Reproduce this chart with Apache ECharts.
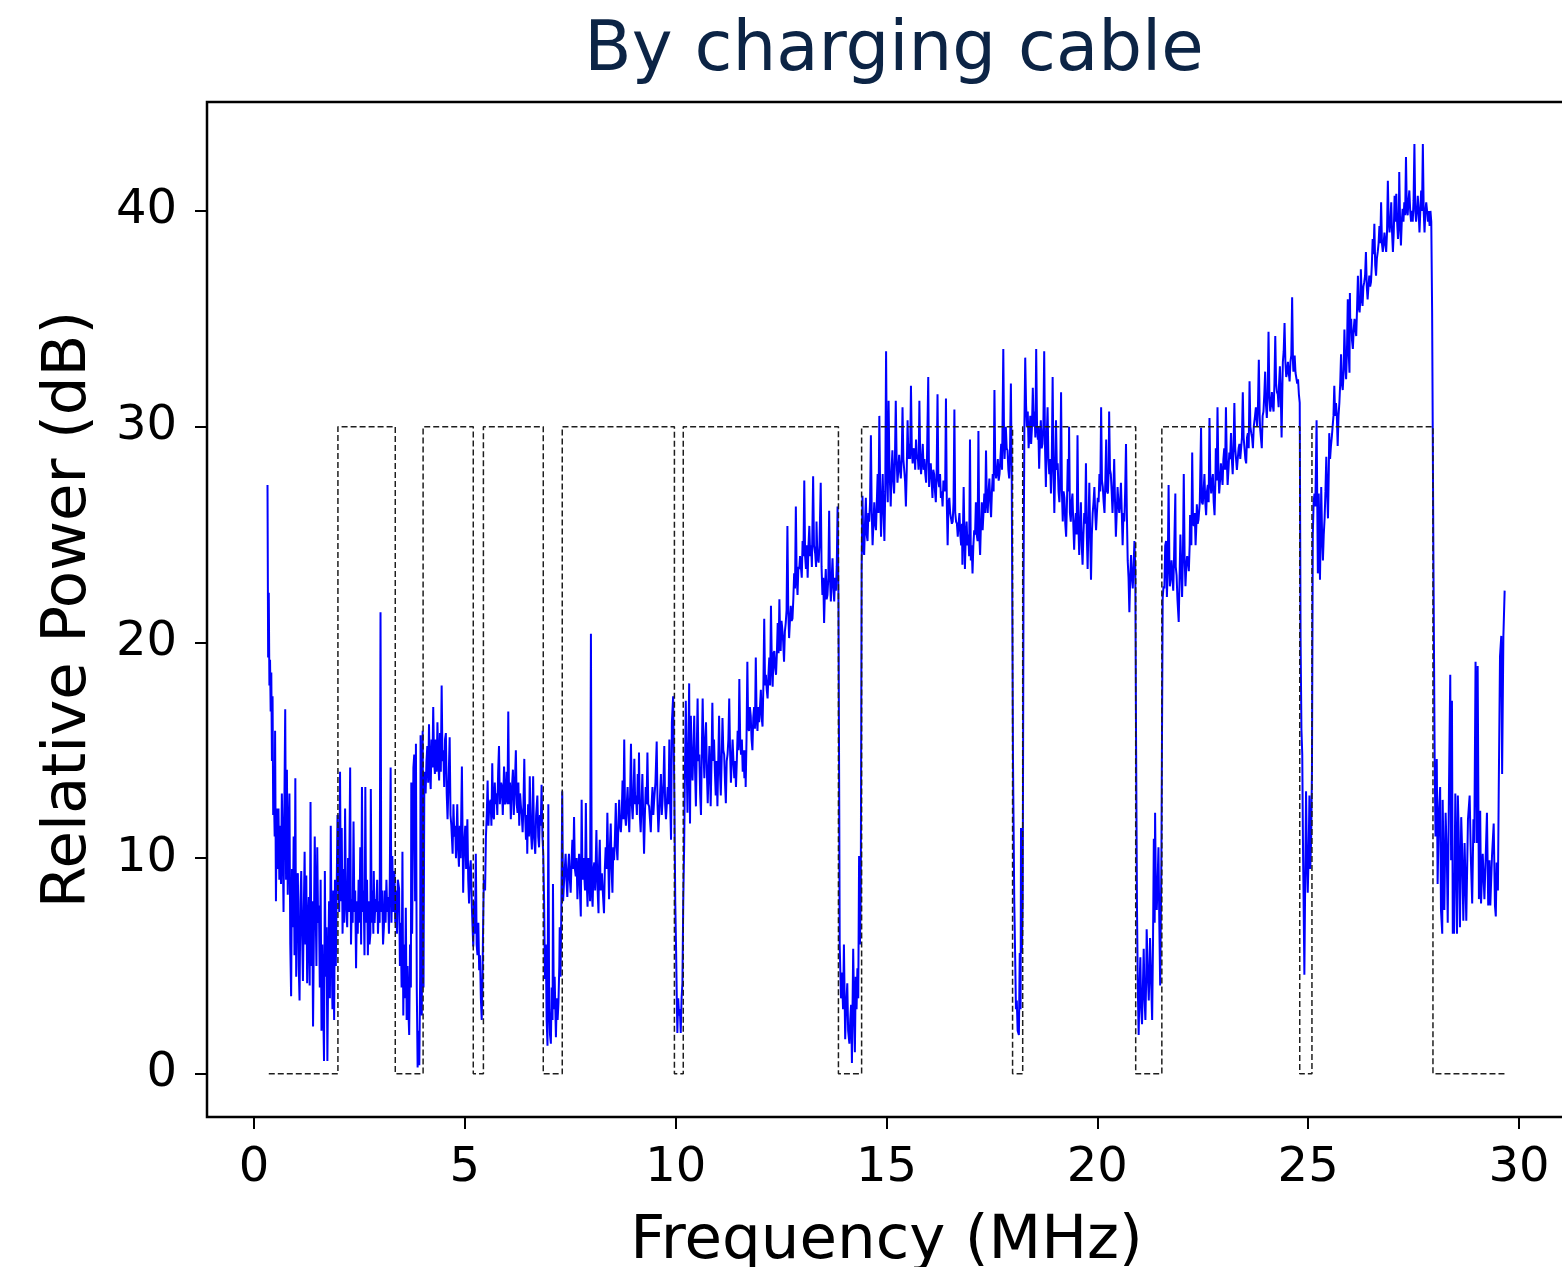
<!DOCTYPE html>
<html>
<head>
<meta charset="utf-8">
<title>By charging cable</title>
<script src="https://cdn.jsdelivr.net/npm/echarts@6/dist/echarts.min.js"></script>
<style>
  html, body { margin: 0; padding: 0; background: #ffffff; }
  #chart { width: 1562px; height: 1267px; }
</style>
</head>
<body>
<div id="chart"></div>
<script>
// Received power spectrum, [frequency MHz, relative power dB]
const spectrumLow = [
  [0.32,27.3],[0.335,19.3],[0.35,22.3],[0.365,18.0],[0.38,19.2],[0.395,16.8],[0.41,18.6],[0.425,14.5],[0.44,17.5],[0.455,12.0],
  [0.47,13.2],[0.49,11.0],[0.50,15.9],[0.52,8.0],[0.54,12.3],[0.56,9.5],[0.58,12.3],[0.60,9.0],[0.62,11.5],[0.64,8.8],
  [0.66,13.0],[0.68,10.8],[0.70,7.5],[0.72,12.5],[0.74,16.9],[0.76,9.0],[0.78,14.1],[0.80,8.3],[0.82,11.0],[0.84,13.0],
  [0.86,6.0],[0.88,3.6],[0.90,9.5],[0.92,6.8],[0.94,11.0],[0.96,5.5],[0.98,13.7],[1.00,4.5],[1.02,9.0],[1.04,9.3],
  [1.06,5.0],[1.08,3.4],[1.10,8.0],[1.12,9.4],[1.14,6.5],[1.16,4.3],[1.18,7.5],[1.20,10.3],[1.22,6.0],[1.24,9.2],
  [1.26,4.2],[1.28,7.0],[1.30,8.2],[1.32,4.1],[1.34,12.6],[1.36,5.0],[1.38,8.0],[1.40,2.2],[1.42,6.5],[1.44,11.0],
  [1.46,8.0],[1.48,5.0],[1.50,10.5],[1.52,7.0],[1.54,7.8],[1.56,4.0],[1.58,9.0],[1.60,2.0],[1.62,6.0],[1.64,3.2],
  [1.66,0.6],[1.68,9.4],[1.70,4.5],[1.72,6.8],[1.74,0.6],[1.76,5.0],[1.78,8.0],[1.80,3.5],[1.82,11.5],[1.84,6.0],
  [1.86,3.0],[1.88,8.5],[1.90,2.5],[1.92,9.0],[1.94,5.0],[1.96,8.5],[1.98,12.0],
  [2.00,12.0],[2.02,7.5],[2.04,14.0],[2.06,8.0],[2.08,11.4],[2.10,6.5],[2.12,9.5],[2.14,7.0],[2.16,12.3],[2.18,8.0],
  [2.21,6.8],[2.23,10.0],[2.25,7.5],[2.28,14.2],[2.30,6.0],[2.32,8.1],[2.34,7.0],[2.36,11.7],[2.38,7.5],[2.40,8.5],
  [2.42,4.9],[2.44,8.0],[2.46,6.5],[2.48,9.0],[2.50,7.0],[2.52,10.5],[2.54,6.0],[2.56,13.3],[2.58,7.5],[2.60,8.5],
  [2.62,5.5],[2.64,13.3],[2.66,7.0],[2.68,9.0],[2.70,5.5],[2.72,8.0],[2.74,6.0],[2.76,6.5],[2.77,13.2],[2.79,7.0],
  [2.81,8.5],[2.83,6.5],[2.84,9.4],[2.86,7.0],[2.88,8.1],[2.90,7.5],[2.92,9.0],[2.94,6.5],[2.96,8.0],[2.98,7.0],
  [3.00,21.4],[3.02,7.5],[3.04,8.5],[3.06,6.0],[3.08,6.8],[3.10,8.5],[3.12,7.0],[3.14,9.0],[3.16,7.5],[3.18,8.2],
  [3.20,6.5],[3.22,9.0],[3.24,14.2],[3.26,7.0],[3.28,10.1],[3.30,7.5],[3.33,9.4],[3.35,7.0],[3.37,8.5],[3.39,6.5],
  [3.41,9.0],[3.44,8.6],[3.46,5.0],[3.48,7.0],[3.50,4.0],[3.52,10.3],[3.54,2.7],[3.56,6.0],[3.58,3.5],[3.60,7.7],
  [3.62,2.5],[3.64,5.0],[3.66,3.0],[3.68,1.8],[3.70,6.0],[3.72,4.0],[3.73,13.5],[3.75,6.5],[3.78,14.2],[3.80,14.8],
  [3.82,8.0],[3.84,15.3],[3.86,4.0],[3.88,0.3],[3.90,2.0],[3.92,0.4],[3.94,4.5],[3.95,15.7],[3.98,2.7],[4.00,15.9]
];

const spectrumMid = [
  [4.02,4.0],[4.04,14.0],[4.07,13.0],[4.09,14.5],[4.11,15.2],[4.13,13.5],[4.15,16.2],[4.17,14.0],[4.19,13.2],[4.21,15.5],
  [4.23,14.2],[4.25,17.0],[4.27,14.5],[4.29,13.9],[4.31,15.5],[4.33,14.0],[4.35,16.3],[4.37,14.5],[4.39,13.6],[4.41,15.8],
  [4.43,14.0],[4.45,18.0],[4.47,14.5],[4.49,15.0],[4.51,13.3],[4.53,15.5],[4.55,15.8],[4.57,13.0],[4.59,11.8],[4.62,14.0],
  [4.64,15.6],[4.66,12.0],[4.68,11.5],[4.71,10.2],[4.73,12.5],[4.75,11.0],[4.77,11.5],[4.79,10.0],[4.82,12.5],[4.84,10.5],
  [4.86,9.6],[4.88,11.5],[4.90,10.0],[4.93,14.25],[4.96,8.4],[4.98,10.5],[5.01,11.5],[5.03,9.5],[5.06,11.8],[5.08,9.0],
  [5.10,7.9],[5.12,9.5],[5.14,9.9],[5.17,7.5],[5.20,5.9],[5.22,8.0],[5.24,6.5],[5.26,10.2],[5.28,6.0],[5.30,5.5],
  [5.32,7.0],[5.34,4.8],[5.36,5.5],[5.38,3.5],[5.40,2.5],[5.42,4.5],[5.43,6.4],[5.45,9.0],[5.48,8.5],[5.50,11.0],
  [5.52,12.0],[5.54,13.6],[5.56,11.5],[5.58,12.5],[5.61,12.7],[5.63,11.5],[5.65,14.4],[5.67,12.0],[5.69,11.8],[5.71,13.5],
  [5.73,12.5],[5.75,13.0],[5.77,12.0],[5.79,14.0],[5.81,15.2],[5.83,12.5],[5.86,13.5],[5.88,13.3],[5.90,12.0],[5.93,14.25],
  [5.95,12.5],[5.97,12.7],[5.99,14.0],[6.01,12.5],[6.03,16.8],[6.05,12.5],[6.07,13.5],[6.09,11.8],[6.11,13.0],[6.14,14.1],
  [6.16,12.0],[6.18,13.0],[6.21,15.0],[6.23,12.5],[6.25,12.1],[6.27,13.5],[6.29,11.5],[6.31,13.0],[6.33,12.4],[6.35,12.0],
  [6.37,11.2],[6.39,12.5],[6.41,14.6],[6.43,12.0],[6.45,10.85],[6.47,12.0],[6.48,10.2],[6.50,12.5],[6.52,11.0],[6.54,13.8],
  [6.56,11.5],[6.59,10.4],[6.62,13.8],[6.64,11.0],[6.67,10.2],[6.69,12.0],[6.72,12.9],[6.74,11.0],[6.76,10.5],[6.78,12.0],
  [6.80,11.5],[6.82,13.4],[6.84,11.0],[6.86,10.2],[6.88,8.0],[6.90,4.4],[6.92,6.0],[6.94,2.5],[6.96,1.3],[6.98,12.5],
  [7.00,3.0],[7.02,1.8],[7.04,1.4],[7.06,4.0],[7.08,2.5],[7.09,8.8],[7.11,3.0],[7.13,4.5],[7.16,1.7],[7.18,3.5],
  [7.20,2.5],[7.22,3.3],[7.24,5.0],[7.25,6.8],[7.27,4.5],[7.29,8.0],[7.31,13.1]
];

const spectrum40m = [
  [7.33,8.0],[7.35,8.8],[7.37,9.5],[7.39,10.2],[7.41,9.0],[7.43,8.2],[7.45,9.5],[7.47,10.2],[7.49,9.0],[7.51,8.4],
  [7.53,9.8],[7.55,10.85],[7.57,9.5],[7.59,11.9],[7.61,9.5],[7.63,9.15],[7.65,10.0],[7.67,8.1],[7.69,9.5],[7.71,10.2],
  [7.73,8.5],[7.75,7.3],[7.77,12.7],[7.79,9.0],[7.81,10.0],[7.83,9.3],[7.85,8.5],[7.87,12.55],[7.89,9.0],[7.91,7.75],
  [7.93,10.0],[7.95,9.15],[7.97,8.0],[7.99,20.4],[8.01,8.5],[8.03,7.75],[8.05,9.5],[8.07,9.8],[8.09,8.5],[8.12,11.3],
  [8.14,9.0],[8.17,7.45],[8.18,9.5],[8.20,10.85],[8.22,8.5],[8.25,9.3],[8.27,8.5],[8.30,7.45],[8.32,9.5],[8.34,10.5],
  [8.36,9.5],[8.38,12.1],[8.40,10.0],[8.42,8.1],[8.44,10.5],[8.46,11.6],[8.48,9.5],[8.50,8.4],[8.52,10.5],[8.54,9.9],
  [8.56,11.0],[8.58,12.55],[8.60,10.5],[8.62,9.9],[8.64,11.5],[8.66,12.7],[8.68,11.5],[8.70,11.2],[8.72,12.0],[8.74,13.6],
  [8.76,11.8],[8.78,15.5],[8.80,12.0],[8.82,11.5],[8.84,12.5],[8.86,13.3],[8.88,12.0],[8.90,11.2],[8.92,13.0],[8.94,15.3],
  [8.96,12.5],[8.98,11.8],[9.00,13.0],[9.02,14.6],[9.04,12.5],[9.06,12.9],[9.08,12.0],[9.10,13.9],[9.12,12.5],[9.13,14.9],
  [9.15,12.0],[9.17,11.2],[9.19,12.5],[9.21,13.9],[9.23,12.0],[9.25,10.2],[9.27,12.0],[9.29,13.3],[9.31,12.5],[9.33,14.9],
  [9.35,12.5],[9.37,12.4],[9.39,11.8],[9.41,11.2],[9.43,12.5],[9.45,13.3],[9.47,12.0],[9.49,12.7],[9.52,13.5],[9.55,15.4],
  [9.57,12.5],[9.59,11.2],[9.62,12.5],[9.65,13.9],[9.67,12.0],[9.69,12.7],[9.71,13.5],[9.73,15.2],[9.75,12.5],[9.77,11.8],
  [9.79,12.5],[9.81,13.3],[9.83,12.5],[9.85,15.5],[9.87,12.5],[9.89,10.85],[9.91,16.3],[9.94,17.5],[9.97,12.7],[9.99,8.0],
  [10.01,5.75],[10.03,3.0],[10.04,1.9],[10.06,3.5],[10.08,2.7],[10.10,3.0],[10.12,1.9],[10.14,3.5],[10.16,4.2],[10.18,8.0],
  [10.20,10.4],[10.22,14.0],[10.24,17.3],[10.26,14.5],[10.28,12.1],[10.30,15.0],[10.32,18.1]
];

const spectrum30m = [
  [10.34,11.6],[10.36,16.6],[10.38,14.5],[10.40,13.6],[10.42,15.0],[10.44,16.6],[10.46,14.0],[10.48,12.4],[10.50,15.0],[10.52,17.4],
  [10.54,14.5],[10.56,14.8],[10.58,13.0],[10.60,12.0],[10.62,15.0],[10.64,17.4],[10.66,15.0],[10.68,13.7],[10.70,15.5],[10.72,16.3],
  [10.74,14.0],[10.76,12.55],[10.78,14.0],[10.80,15.2],[10.82,13.5],[10.83,12.4],[10.85,14.5],[10.87,17.2],[10.89,14.5],[10.91,15.5],
  [10.93,14.0],[10.95,12.9],[10.97,14.5],[10.99,12.4],[11.01,14.5],[11.03,16.6],[11.05,14.0],[11.07,12.9],[11.09,14.5],[11.11,16.5],
  [11.13,15.0],[11.15,14.8],[11.17,13.5],[11.19,12.55],[11.21,14.5],[11.23,14.8],[11.25,15.5],[11.27,17.4],[11.29,15.0],[11.31,13.5],
  [11.33,14.5],[11.35,15.5],[11.37,14.5],[11.39,13.7],[11.41,14.5],[11.43,13.3],[11.45,14.5],[11.47,15.9],[11.49,15.0],[11.51,18.3],
  [11.53,15.5],[11.55,14.8],[11.57,15.5],[11.59,14.0],[11.61,15.0],[11.63,13.7],[11.65,15.0],[11.66,13.3],[11.68,15.5],[11.70,19.1],
  [11.72,16.0],[11.74,15.9],[11.76,17.0],[11.78,16.6],[11.80,15.5],[11.82,15.0],[11.84,16.5],[11.86,17.0],[11.88,16.0],[11.90,19.3],
  [11.92,16.5],[11.94,15.9],[11.96,17.0],[11.98,16.3],[12.00,17.0],[12.02,17.8],[12.04,16.5],[12.06,16.1],[12.08,18.0],[12.10,21.1],
  [12.12,18.0],[12.14,18.5],[12.16,17.8],[12.18,17.4],[12.20,18.5],[12.22,19.3],[12.24,18.0],[12.26,21.7],[12.28,19.0],[12.30,17.95],
  [12.32,19.5],[12.34,19.6],[12.36,18.8],[12.38,18.5],[12.40,19.5],[12.42,20.9],[12.44,19.5],[12.46,22.0],[12.48,20.0],[12.49,19.6],
  [12.51,21.0],[12.53,20.6],[12.55,20.0],[12.57,19.1],[12.59,20.5],[12.61,20.9],[12.63,21.5],[12.65,25.4],[12.67,21.5],[12.69,20.2],
  [12.71,21.0],[12.73,21.7],[12.75,21.0],[12.77,21.1],[12.79,22.0],[12.81,23.2],[12.83,22.5],[12.85,26.3],[12.87,23.0],[12.89,22.2],
  [12.91,23.5],[12.93,23.4],[12.95,24.0],[12.97,23.5],[12.99,23.0],[13.01,24.7],[13.03,24.0],[13.05,27.5],[13.07,24.0],[13.09,23.4],
  [13.11,24.5],[13.13,23.0],[13.15,24.5],[13.17,25.4],[13.19,24.0],[13.21,24.5],[13.23,23.5],[13.26,27.7],[13.28,24.5],[13.31,24.1],
  [13.33,23.5],[13.34,25.6],[13.36,24.0],[13.39,23.7],[13.41,24.5],[13.44,27.4],[13.46,23.5],[13.48,22.2],[13.50,23.0],[13.52,20.9],
  [13.54,22.5],[13.56,23.4],[13.58,22.0],[13.60,22.2],[13.62,23.0],[13.64,26.1],[13.66,23.0],[13.68,21.9],[13.70,23.0],[13.72,23.9],
  [13.74,22.5],[13.76,21.9],[13.78,23.0],[13.80,22.4],[13.82,23.5],[13.84,26.3],[13.86,22.2],[13.88,12.0],[13.89,6.0],[13.92,3.5],
  [13.94,4.7],[13.97,3.0],[13.99,6.0],[14.02,1.6],[14.04,3.0],[14.07,4.2],[14.09,2.0],[14.12,1.4],[14.14,2.5],[14.16,3.2],
  [14.18,0.5],[14.21,5.8],[14.23,3.0],[14.25,1.0],[14.27,4.5],[14.29,3.0],[14.31,4.9],[14.33,3.5],[14.35,10.1],[14.37,6.0],
  [14.39,8.5],[14.41,23.4]
];

const spectrum20m = [
  [14.43,26.8],[14.45,24.5],[14.47,24.05],[14.49,25.5],[14.51,26.7],[14.53,25.0],[14.55,24.7],[14.57,26.0],[14.59,25.6],[14.61,26.5],
  [14.63,29.6],[14.65,26.0],[14.67,24.5],[14.69,25.5],[14.71,26.5],[14.73,25.5],[14.75,25.2],[14.77,26.5],[14.79,27.8],[14.81,26.0],
  [14.83,30.5],[14.85,27.0],[14.87,24.9],[14.89,26.5],[14.91,27.8],[14.93,26.0],[14.95,24.7],[14.97,27.0],[14.99,33.5],[15.01,28.0],
  [15.03,26.5],[15.05,31.2],[15.07,28.0],[15.09,27.0],[15.10,26.3],[15.12,28.0],[15.14,28.9],[15.16,27.5],[15.18,26.9],[15.20,28.5],
  [15.22,31.2],[15.24,28.5],[15.26,27.4],[15.28,28.0],[15.30,28.7],[15.32,28.0],[15.34,27.6],[15.36,28.5],[15.38,30.9],[15.40,28.5],
  [15.42,28.5],[15.44,27.5],[15.46,26.3],[15.48,28.0],[15.50,30.3],[15.52,28.5],[15.54,29.2],[15.56,28.5],[15.58,31.9],[15.60,29.0],
  [15.62,28.3],[15.64,29.0],[15.66,28.9],[15.68,28.0],[15.70,29.4],[15.72,28.5],[15.74,28.7],[15.76,28.0],[15.78,31.2],[15.80,28.5],
  [15.82,27.8],[15.84,28.5],[15.86,29.2],[15.88,28.0],[15.90,28.5],[15.92,27.8],[15.94,27.4],[15.96,28.5],[15.99,32.3],[16.01,27.2],
  [16.03,28.0],[16.05,28.3],[16.07,27.5],[16.09,26.7],[16.11,28.0],[16.13,27.8],[16.15,27.0],[16.17,26.5],[16.19,28.0],[16.21,31.5],
  [16.23,27.5],[16.25,27.2],[16.27,27.8],[16.29,26.7],[16.31,27.0],[16.33,26.3],[16.35,27.5],[16.37,27.4],[16.39,27.0],[16.41,31.3],
  [16.43,26.5],[16.45,24.5],[16.47,26.5],[16.49,26.7],[16.51,26.0],[16.53,26.0],[16.55,25.5],[16.57,25.6],[16.59,26.5],[16.61,30.8],
  [16.63,26.0],[16.65,25.6],[16.67,25.5],[16.69,24.9],[16.71,25.5],[16.73,26.0],[16.75,25.0],[16.77,24.5],[16.79,25.5],[16.80,23.6],
  [16.83,27.2],[16.86,23.4],[16.88,25.0],[16.90,25.6],[16.92,24.5],[16.94,25.0],[16.96,24.0],[16.98,29.4],[17.00,23.8],[17.02,24.5],
  [17.04,23.2],[17.06,24.5],[17.08,25.2],[17.10,25.0],[17.12,26.5],[17.14,25.0],[17.16,24.7],[17.18,29.8],[17.20,25.0],[17.22,24.05],
  [17.24,25.5],[17.26,26.5],[17.28,25.2],[17.30,26.0],[17.32,26.9],[17.34,26.0],[17.36,28.9],[17.38,26.5],[17.40,26.0],[17.42,27.0],
  [17.44,27.6],[17.46,26.5],[17.48,25.8],[17.50,27.0],[17.52,27.8],[17.54,27.0],[17.56,31.7],[17.58,28.0],[17.60,27.6],[17.62,28.0],
  [17.64,28.5],[17.66,27.5],[17.68,27.8],[17.70,28.5],[17.72,29.2],[17.74,28.0],[17.77,33.6],[17.79,29.0],[17.80,28.5],[17.82,29.5],
  [17.83,30.0],[17.85,29.0],[17.87,28.9],[17.89,28.0],[17.91,27.6],[17.93,29.0],[17.95,32.0],[17.97,27.6],[18.00,14.5],[18.03,8.0],
  [18.05,5.6],[18.07,3.0],[18.09,3.4],[18.11,2.0],[18.14,1.8],[18.16,5.6],[18.18,3.0],[18.19,11.4],[18.21,5.6],[18.23,8.0],
  [18.25,22.9]
];

const spectrum17m = [
  [18.27,30.0],[18.29,33.2],[18.31,31.0],[18.33,30.0],[18.35,30.7],[18.37,29.0],[18.39,29.6],[18.41,30.5],[18.43,29.2],[18.45,30.0],
  [18.47,31.8],[18.49,30.0],[18.51,30.7],[18.53,29.5],[18.55,33.6],[18.57,30.0],[18.59,29.4],[18.60,30.0],[18.62,28.05],[18.64,29.5],
  [18.66,30.3],[18.68,29.0],[18.70,29.2],[18.72,30.0],[18.74,33.5],[18.76,29.0],[18.78,27.2],[18.80,29.5],[18.82,30.9],[18.84,28.5],
  [18.86,27.8],[18.88,28.5],[18.90,26.9],[18.92,28.5],[18.94,32.3],[18.96,28.0],[18.98,26.0],[19.00,28.0],[19.02,30.3],[19.04,28.0],
  [19.06,28.3],[19.08,27.0],[19.10,26.5],[19.12,27.5],[19.14,31.6],[19.16,27.0],[19.18,25.6],[19.20,27.0],[19.22,26.7],[19.24,25.5],
  [19.26,24.9],[19.28,26.5],[19.30,28.5],[19.32,27.0],[19.33,30.0],[19.35,26.0],[19.37,25.6],[19.39,26.5],[19.41,26.9],[19.43,25.5],
  [19.45,24.3],[19.47,25.5],[19.49,26.0],[19.51,25.0],[19.53,29.6],[19.55,25.5],[19.57,24.05],[19.59,25.5],[19.61,26.5],[19.63,24.5],
  [19.65,23.6],[19.67,25.0],[19.69,26.0],[19.71,25.5],[19.73,28.3],[19.75,25.0],[19.77,23.4],[19.79,25.5],[19.81,27.4],[19.83,25.0],
  [19.85,22.9],[19.87,25.0],[19.89,26.0],[19.91,26.5],[19.93,27.2],[19.95,26.0],[19.97,25.2],[19.99,26.0],[20.01,26.7],[20.03,26.5],
  [20.05,27.8],[20.07,27.0],[20.09,30.9],[20.11,27.5],[20.13,27.2],[20.15,26.5],[20.17,26.0],[20.19,27.5],[20.21,29.4],[20.23,27.0],
  [20.25,26.9],[20.27,28.0],[20.28,30.7],[20.30,28.0],[20.32,27.8],[20.34,27.0],[20.36,26.0],[20.38,27.0],[20.40,28.5],[20.42,26.5],
  [20.44,24.9],[20.46,26.0],[20.48,27.2],[20.50,26.5],[20.52,26.0],[20.54,26.5],[20.56,27.4],[20.58,26.0],[20.60,24.5],[20.62,26.0],
  [20.64,25.6],[20.66,27.0],[20.68,29.2],[20.70,26.0],[20.72,23.8],[20.74,23.0],[20.76,21.4],[20.78,23.0],[20.80,24.05],[20.82,23.0],
  [20.84,22.5],[20.86,23.5],[20.88,24.7],[20.90,23.4],[20.92,15.0],[20.94,7.8],[20.96,4.0],[20.98,1.8],[21.00,4.0],[21.02,5.4],
  [21.04,3.0],[21.06,2.3],[21.08,4.0],[21.10,5.8],[21.12,3.5],[21.14,2.5],[21.16,4.5],[21.17,6.7],[21.20,4.5],[21.22,3.4],
  [21.24,5.0],[21.25,6.3],[21.28,4.0],[21.30,2.5],[21.32,6.0],[21.34,10.9],[21.36,7.0],[21.37,12.1],[21.39,8.0],[21.41,7.6],
  [21.43,9.0],[21.45,10.5],[21.47,7.0],[21.49,4.1],[21.51,8.0],[21.52,10.3],[21.55,22.05],[21.57,22.6],[21.59,22.5]
];

const spectrum15m = [
  [21.61,24.5],[21.63,24.7],[21.65,22.1],[21.67,23.5],[21.69,27.3],[21.71,23.5],[21.72,22.6],[21.74,23.0],[21.76,23.8],[21.78,23.0],
  [21.80,22.4],[21.82,24.0],[21.85,26.9],[21.86,23.5],[21.88,23.1],[21.90,22.0],[21.93,20.95],[21.95,23.0],[21.97,25.0],[21.99,23.5],
  [22.01,22.1],[22.03,24.0],[22.05,27.8],[22.07,24.0],[22.09,22.6],[22.11,23.5],[22.13,24.0],[22.15,23.8],[22.17,23.3],[22.19,24.5],
  [22.20,25.9],[22.23,24.5],[22.25,28.8],[22.27,25.5],[22.29,25.4],[22.31,26.0],[22.33,24.5],[22.35,25.5],[22.36,26.4],[22.38,25.5],
  [22.40,25.7],[22.43,26.5],[22.46,29.95],[22.48,26.5],[22.50,26.4],[22.52,27.0],[22.54,27.8],[22.56,26.5],[22.58,25.9],[22.60,27.0],
  [22.62,27.3],[22.64,26.5],[22.66,30.4],[22.68,27.5],[22.70,26.9],[22.72,27.5],[22.74,27.8],[22.76,26.5],[22.78,25.9],[22.80,27.5],
  [22.81,29.0],[22.83,27.5],[22.85,30.9],[22.87,28.0],[22.89,26.9],[22.91,27.5],[22.93,28.3],[22.95,27.8],[22.97,27.3],[22.99,28.5],
  [23.01,29.0],[23.03,28.0],[23.05,30.9],[23.07,28.5],[23.09,27.3],[23.11,28.0],[23.13,28.8],[23.15,28.5],[23.17,29.7],[23.19,28.5],
  [23.21,27.8],[23.23,29.0],[23.25,31.1],[23.27,29.0],[23.29,28.5],[23.31,28.0],[23.33,28.05],[23.35,29.0],[23.37,29.2],[23.39,28.5],
  [23.41,28.5],[23.43,29.5],[23.45,31.6],[23.47,29.5],[23.49,29.0],[23.51,28.5],[23.53,28.3],[23.55,29.5],[23.57,29.7],[23.59,29.0],
  [23.61,32.1],[23.63,30.0],[23.65,29.7],[23.67,29.5],[23.69,29.0],[23.71,30.0],[23.72,29.95],[23.74,30.5],[23.76,30.9],[23.79,30.0],
  [23.81,31.0],[23.83,33.1],[23.85,30.5],[23.86,29.95],[23.88,30.0],[23.90,29.0],[23.92,30.5],[23.94,30.7],[23.96,31.5],[23.98,32.55],
  [24.00,31.0],[24.02,30.4],[24.04,31.5],[24.06,34.4],[24.08,31.5],[24.10,30.7],[24.12,31.0],[24.14,31.6],[24.16,31.0],[24.18,30.7],
  [24.20,32.0],[24.22,34.2],[24.24,32.0],[24.26,31.6],[24.28,31.5],[24.30,30.9],[24.31,32.0],[24.33,32.8],[24.35,31.5],[24.37,29.5],
  [24.39,32.0],[24.40,33.0],[24.42,33.5],[24.44,34.8],[24.46,33.0],[24.48,32.3],[24.50,32.5],[24.52,33.0],[24.54,32.5],[24.56,32.1],
  [24.58,33.0],[24.60,33.3],[24.62,36.0],[24.64,33.0],[24.65,32.55],[24.67,33.0],[24.68,33.3],[24.70,32.5],[24.72,32.55],[24.74,32.0],
  [24.76,32.2],[24.78,31.5],[24.80,31.1],[24.82,20.2],[24.84,16.0],[24.86,14.8],[24.88,10.0],[24.89,8.4],[24.91,4.6],[24.93,9.0],
  [24.95,13.1],[24.97,10.0],[24.99,8.4],[25.01,10.0],[25.03,12.9],[25.05,9.5],[25.07,10.8],[25.09,14.0],[25.11,25.0]
];

const spectrum12m = [
  [25.13,26.5],[25.15,26.9],[25.17,26.3],[25.20,30.3],[25.23,23.2],[25.25,26.9],[25.27,25.0],[25.28,22.9],[25.30,25.5],[25.31,27.2],
  [25.33,25.0],[25.35,23.8],[25.37,25.0],[25.39,25.75],[25.41,27.0],[25.43,28.6],[25.45,27.0],[25.47,25.75],[25.49,28.0],[25.50,29.7],
  [25.52,28.5],[25.54,29.1],[25.56,29.5],[25.58,30.0],[25.60,30.5],[25.62,31.9],[25.64,30.5],[25.66,31.1],[25.68,30.5],[25.70,29.1],
  [25.72,30.5],[25.74,31.1],[25.76,32.0],[25.78,33.35],[25.80,32.0],[25.82,31.7],[25.84,32.5],[25.86,34.5],[25.88,33.0],[25.90,32.2],
  [25.92,33.5],[25.94,35.9],[25.96,33.5],[25.98,32.5],[25.99,36.2],[26.00,34.5],[26.02,35.0],[26.04,34.0],[26.06,33.6],[26.08,34.5],
  [26.10,35.0],[26.12,34.5],[26.14,34.2],[26.16,35.5],[26.18,37.0],[26.20,35.5],[26.22,35.3],[26.24,36.0],[26.25,37.3],[26.27,36.0],
  [26.29,35.6],[26.31,36.5],[26.33,36.7],[26.35,37.0],[26.37,38.1],[26.39,36.5],[26.41,35.9],[26.43,36.5],[26.45,37.0],[26.47,36.5],
  [26.49,36.7],[26.51,37.5],[26.53,38.7],[26.55,38.0],[26.57,39.4],[26.59,37.5],[26.61,37.0],[26.63,37.8],[26.65,38.1],[26.67,38.5],
  [26.69,39.3],[26.71,38.5],[26.73,40.4],[26.75,38.5],[26.77,38.1],[26.79,38.5],[26.81,39.0],[26.83,38.5],[26.85,38.1],[26.87,39.0],
  [26.89,41.4],[26.91,39.5],[26.93,39.0],[26.95,39.5],[26.97,40.4],[26.99,39.0],[27.01,38.1],[27.03,39.0],[27.05,40.7],[27.07,39.5],
  [27.09,40.8],[27.11,39.5],[27.13,38.7],[27.15,39.5],[27.16,41.8],[27.18,39.5],[27.20,38.4],[27.22,39.5],[27.24,40.1],[27.26,39.5],
  [27.28,40.4],[27.30,39.8],[27.32,42.5],[27.34,40.0],[27.36,39.8],[27.38,40.5],[27.40,40.95],[27.42,40.0],[27.44,39.5],[27.46,40.0],
  [27.48,39.5],[27.50,40.5],[27.52,43.1],[27.54,40.0],[27.56,39.5],[27.58,40.0],[27.60,40.7],[27.62,40.0],[27.64,39.0],[27.66,40.0],
  [27.68,40.95],[27.70,40.0],[27.72,43.1],[27.74,40.0],[27.76,39.0],[27.78,40.0],[27.80,40.4],[27.82,40.0],[27.84,39.5],[27.86,40.0],
  [27.88,39.3],[27.90,40.0],[27.92,39.5],[27.94,35.3],[27.97,24.1]
];

const spectrumHigh = [
  [28.00,14.6],[28.02,11.0],[28.04,12.9],[28.05,14.6],[28.07,8.8],[28.10,12.1],[28.13,13.3],[28.15,7.6],[28.18,6.5],[28.19,12.7],
  [28.21,10.0],[28.23,7.6],[28.26,12.1],[28.29,9.9],[28.31,7.0],[28.34,13.3],[28.37,18.5],[28.39,9.9],[28.41,17.3],[28.43,6.5],
  [28.45,9.0],[28.46,6.5],[28.49,13.0],[28.53,6.5],[28.55,12.9],[28.57,11.2],[28.60,6.8],[28.63,11.9],[28.65,10.5],[28.68,7.1],
  [28.71,10.7],[28.73,9.0],[28.75,7.1],[28.79,11.8],[28.83,12.9],[28.86,9.9],[28.89,7.9],[28.92,11.8],[28.94,10.7],[28.97,19.1],
  [29.00,10.7],[29.02,18.9],[29.05,8.1],[29.08,12.2],[29.10,7.9],[29.14,10.2],[29.18,8.1],[29.22,10.7],[29.24,12.1],[29.27,7.8],
  [29.30,9.9],[29.32,7.8],[29.36,10.1],[29.40,11.6],[29.43,7.8],[29.45,7.3],[29.47,9.8],[29.50,8.5],[29.52,13.2],[29.55,19.35],
  [29.58,20.3],[29.60,13.9],[29.63,20.3],[29.66,22.4]
];

// Band mask: edges in MHz and the level held between consecutive edges
const maskEdgesMHz = [0.35, 1.99, 3.35, 4.01, 5.20, 5.44, 6.86, 7.31, 9.97, 10.18,
                      13.86, 14.41, 17.99, 18.23, 20.91, 21.53, 24.80, 25.09, 27.96, 29.67];
const maskLevelsDb = [0, 30, 0, 30, 0, 30, 0, 30, 0, 30, 0, 30, 0, 30, 0, 30, 0, 30, 0];

// Axis ticks
const xTicksMHz = [0, 5, 10, 15, 20, 25, 30];
const yTicksDb = [0, 10, 20, 30, 40];

const spectrum = [].concat(spectrumLow, spectrumMid, spectrum40m, spectrum30m, spectrum20m,
                           spectrum17m, spectrum15m, spectrum12m, spectrumHigh);

const maskPath = [];
for (let i = 0; i < maskLevelsDb.length; i++) {
  maskPath.push([maskEdgesMHz[i], maskLevelsDb[i]]);
  maskPath.push([maskEdgesMHz[i + 1], maskLevelsDb[i]]);
}

const tickFont = { fontFamily: 'DejaVu Sans', fontSize: 48, color: '#000000' };
const nameFont = { fontFamily: 'DejaVu Sans', fontSize: 61, color: '#000000' };

const chart = echarts.init(document.getElementById('chart'), null, { renderer: 'canvas' });
chart.setOption({
  animation: false,
  backgroundColor: '#ffffff',
  title: {
    text: 'By charging cable',
    left: 889,
    top: 13,
    textAlign: 'center',
    textStyle: {
      fontFamily: 'DejaVu Sans',
      fontWeight: 'normal',
      fontSize: 69,
      color: '#0c2445'
    }
  },
  grid: {
    left: 207,
    top: 102,
    width: 1359,
    height: 1015,
    outerBoundsMode: 'none',
    containLabel: false,
    show: true,
    borderColor: '#000000',
    borderWidth: 2.5,
    backgroundColor: 'transparent'
  },
  xAxis: {
    type: 'value',
    min: -1.115,
    max: 31.115,
    name: 'Frequency (MHz)',
    nameLocation: 'middle',
    nameGap: 95,
    nameTextStyle: nameFont,
    axisLine: { show: false, onZero: false },
    splitLine: { show: false },
    axisTick: {
      show: true,
      customValues: xTicksMHz,
      length: 12,
      inside: false,
      lineStyle: { color: '#000000', width: 2 }
    },
    axisLabel: Object.assign({ customValues: xTicksMHz, margin: 28 }, tickFont)
  },
  yAxis: {
    type: 'value',
    min: -2,
    max: 45.05,
    name: 'Relative Power (dB)',
    nameLocation: 'middle',
    nameRotate: 90,
    nameGap: 107,
    nameTextStyle: nameFont,
    axisLine: { show: false, onZero: false },
    splitLine: { show: false },
    axisTick: {
      show: true,
      customValues: yTicksDb,
      length: 12,
      inside: false,
      lineStyle: { color: '#000000', width: 2 }
    },
    axisLabel: Object.assign({ customValues: yTicksDb, margin: 30 }, tickFont)
  },
  series: [
    {
      name: 'Spectrum',
      type: 'line',
      data: spectrum,
      showSymbol: false,
      symbol: 'none',
      lineStyle: { color: '#0000ff', width: 2 },
      z: 2
    },
    {
      name: 'Band mask',
      type: 'line',
      data: maskPath,
      showSymbol: false,
      symbol: 'none',
      lineStyle: { color: '#1e1e1e', width: 1.5, type: [6, 3] },
      z: 3
    }
  ]
});
</script>
</body>
</html>
